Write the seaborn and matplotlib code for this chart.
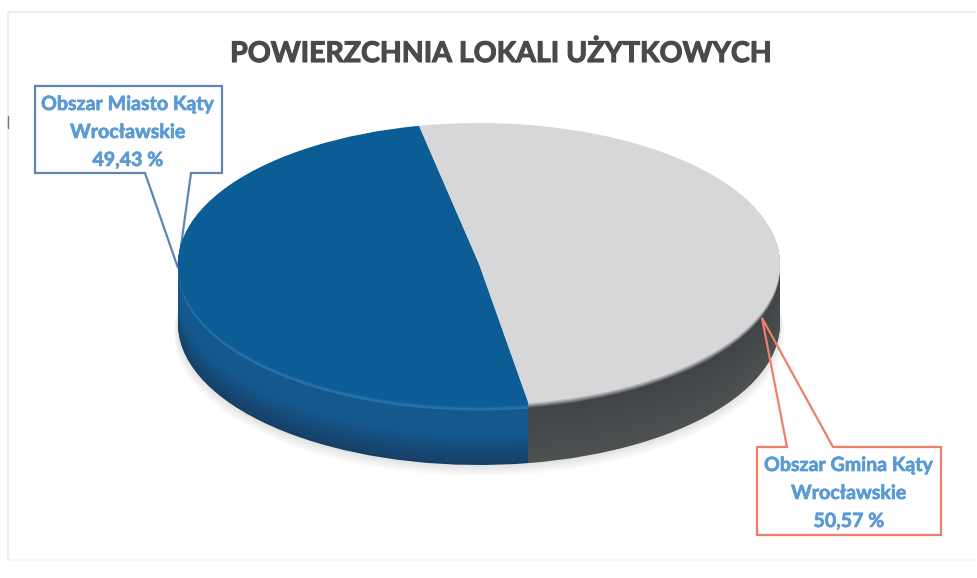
import matplotlib
matplotlib.use("Agg")
import matplotlib.pyplot as plt
import matplotlib.patheffects as pe
from matplotlib.patches import Polygon
import seaborn as sns

title = "POWIERZCHNIA LOKALI UŻYTKOWYCH"
categories = ["Obszar Miasto Kąty\nWrocławskie\n49,43 %", "Obszar Gmina Kąty\nWrocławskie\n50,57 %"]
shares = [49.43, 50.57]
top_colors = ["#0C5C95", "#D7D7D9"]
rim_colors = ["#2470A9", "#3F4345"]
wall_top = ["#14588D", "#3F4345"]
wall_bottom = ["#173F66", "#4E5152"]
label_color = "#5B9BD5"
box_colors = ["#5F86AE", "#EE7F6A"]

sns.set_theme(style="white")
plt.rcParams["font.family"] = ["Lato", "DejaVu Sans"]

W, H = 977, 578
fig = plt.figure(figsize=(W / 100, H / 100), dpi=100, facecolor="white")


def overlay(z):
    a = fig.add_axes([0, 0, 1, 1], zorder=z)
    a.set_xlim(0, W)
    a.set_ylim(H, 0)
    a.axis("off")
    a.patch.set_alpha(0)
    return a


bg = overlay(0)
fg = overlay(2)

# faint scan edge of the page
bg.plot([8, 975], [12, 12], color="#EEEEEE", lw=1.5)
bg.plot([8, 8], [12, 560], color="#F0F0F0", lw=1.5)
bg.plot([8, 975], [560, 560], color="#F6F6F6", lw=1.5)
bg.plot([8, 8], [116, 128], color="#777777", lw=1)

# pie, drawn as a stack of identical pies to form the cylinder wall
cx, cy, rx, ry, depth = 479, 264, 301, 141, 60
pie_ax = fig.add_axes([(cx - rx) / W, (H - cy - ry) / H, 2 * rx / W, 2 * ry / H], zorder=1)
start = 101.5
steps = 60
for i in range(7, 0, -1):  # soft shadow below the disc
    pie_ax.pie(shares, colors=["#000000"] * 2, startangle=start, radius=1.0 + i * 0.002,
               center=(0, -(depth + i * 1.3) / ry),
               wedgeprops=dict(clip_on=False, lw=0, alpha=0.014))
blue_wall = sns.blend_palette([wall_bottom[0], wall_top[0], wall_top[0]], steps)
gray_wall = sns.blend_palette([wall_bottom[1], wall_top[1]], steps)
for k in range(steps):
    off = depth * (1 - k / steps)
    pie_ax.pie(shares, colors=[blue_wall[k], gray_wall[k]], startangle=start,
               center=(0, -off / ry), wedgeprops=dict(clip_on=False, lw=0))
blue_ramp = sns.blend_palette([rim_colors[0], rim_colors[0], top_colors[0], top_colors[0]], 8)
gray_ramp = sns.blend_palette([rim_colors[1], top_colors[1]], 8)
for k in range(8):  # blurred rim between wall and top face
    pie_ax.pie(shares, colors=[blue_ramp[k], gray_ramp[k]], startangle=start,
               center=(0, -(7 - k) * 0.8 / ry), wedgeprops=dict(clip_on=False, lw=0))
pie_ax.set_aspect("auto")
pie_ax.set_xlim(-1, 1)
pie_ax.set_ylim(-1, 1)
pie_ax.axis("off")

# callouts
poly1 = [(35, 86), (222, 86), (222, 173), (191, 173), (178, 268), (145, 173), (35, 173)]
poly2 = [(757, 447), (787, 447), (762, 318), (833, 447), (941, 447), (941, 535), (757, 535)]
bg.add_patch(Polygon(poly1, closed=True, fc="white", ec=box_colors[0], lw=1.6))
fg.add_patch(Polygon(poly2, closed=True, fc="none", ec=box_colors[1], lw=1.6))

kw = dict(color=label_color, fontsize=14.1, fontweight="bold", ha="center", va="center", linespacing=1.5,
          path_effects=[pe.withStroke(linewidth=0.5, foreground=label_color)])
bg.text(128, 132, categories[0], **kw)
fg.text(849, 493, categories[1], **kw)

fg.text(501, 54, title, color="#4A4A4A", fontsize=20.5, fontweight="bold", ha="center", va="center",
        path_effects=[pe.withStroke(linewidth=0.8, foreground="#4A4A4A")])

fig.savefig("out.png", dpi=100, facecolor="white")
